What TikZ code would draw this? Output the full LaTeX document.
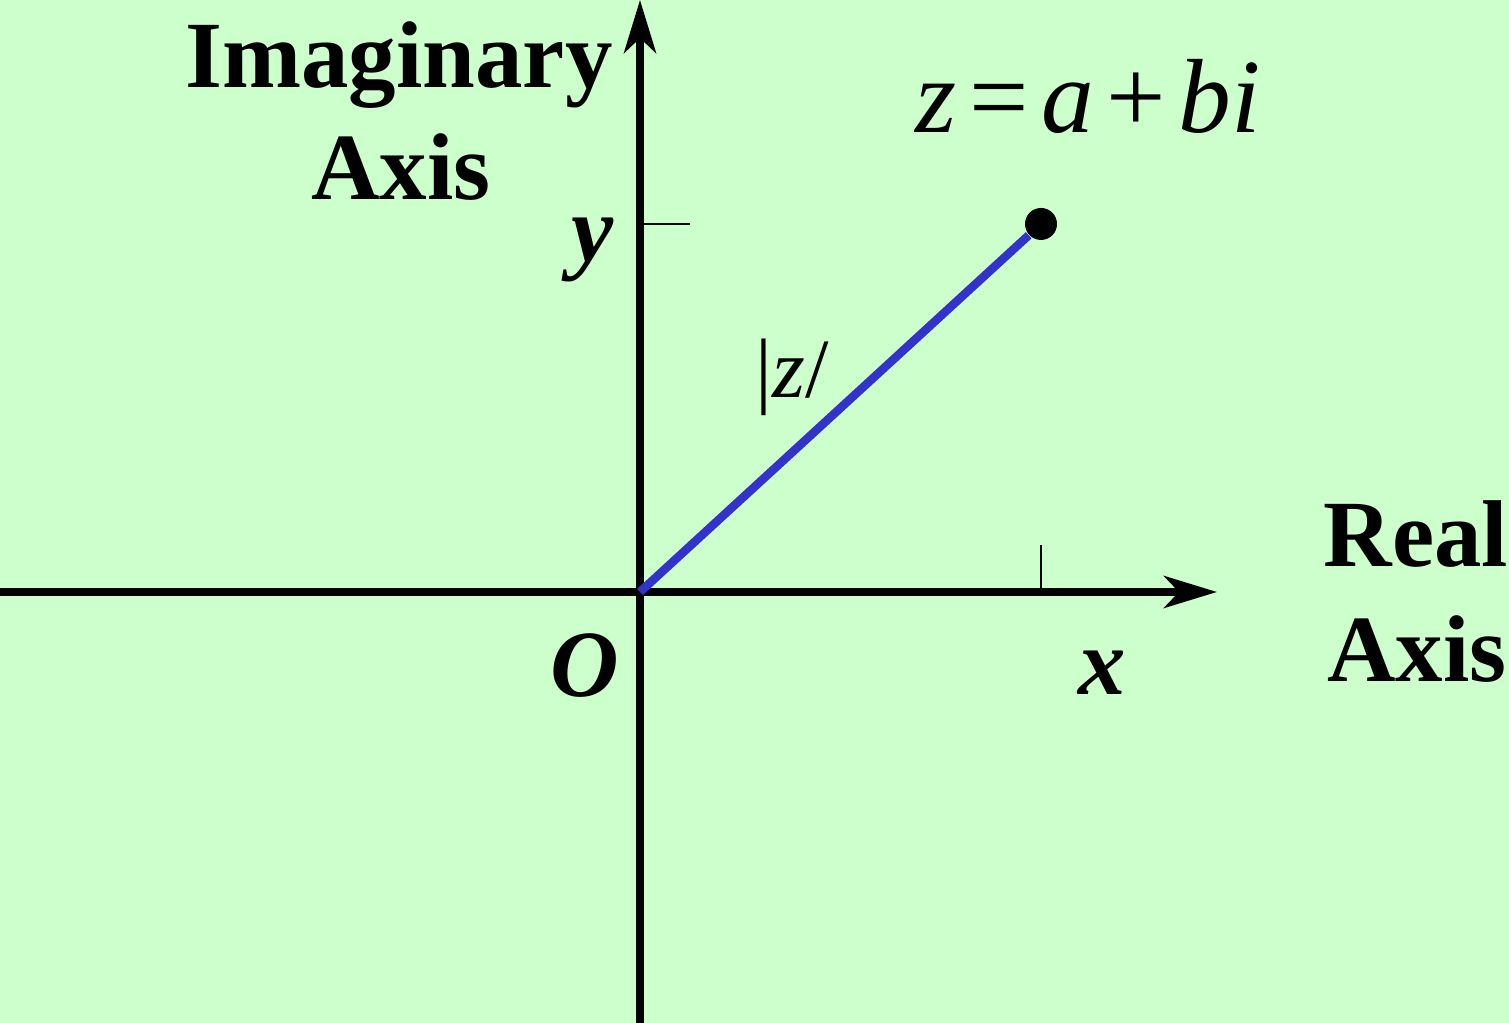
\documentclass[tikz,border=0pt]{standalone}
\usepackage{fontspec}
\setmainfont{Liberation Serif}
\usetikzlibrary{arrows.meta, positioning}
\definecolor{bggreen}{RGB}{204,255,204}
\definecolor{zline}{RGB}{51,51,204}

\begin{document}
\begin{tikzpicture}[
    axisline/.style={line width=0.075cm, -{Stealth[length=5.3mm, width=3.2mm, inset=1.5mm]}},
    tickline/.style={line width=0.02cm},
    axislabel/.style={font=\fontsize{27}{30}\selectfont\bfseries, anchor=base, inner sep=0},
    varlabel/.style={font=\fontsize{27}{30}\selectfont\bfseries\itshape, anchor=base, inner sep=0}]
    \path[use as bounding box, fill=bggreen] (0,0) rectangle (15.09,10.23);
    % axes
    \coordinate (o) at (6.40,4.31);
    \coordinate (xl) at (0,4.31);
    \coordinate (xr) at (12.17,4.31);
    \coordinate (yb) at (6.40,0);
    \coordinate (yt) at (6.40,10.23);
    \draw[axisline] (xl) -- (xr);
    \draw[axisline] (yb) -- (yt);
    % ticks
    \coordinate (xtick) at (10.41,4.31);
    \coordinate (ytick) at (6.40,7.99);
    \draw[tickline] (xtick) -- ++(0,0.47);
    \draw[tickline] (ytick) -- ++(0.50,0);
    % the point z
    \node[circle, fill, inner sep=0, minimum size=0.32cm] (pt) at (10.41,7.99) {};
    \draw[zline, line width=0.085cm] (o) -- (pt);
    % labels
    \node[axislabel] (imag) at (3.99,9.35) {Imaginary};
    \node[axislabel] (imagaxis) at (4.01,8.23) {Axis};
    \node[axislabel] (real) at (14.16,4.56) {Real};
    \node[axislabel] (realaxis) at (14.17,3.41) {Axis};
    \node[varlabel] (ylab) at (5.93,7.61) {y};
    \node[varlabel] (olab) at (5.85,3.26) {O};
    \node[varlabel] (xlab) at (11.02,3.28) {x};
    \node[font=\fontsize{30}{34}\selectfont, anchor=base, inner sep=0] (zeq) at (10.88,8.90)
        {\textit{z}\kern0.12em=\kern0.12em\textit{a}\kern0.12em+\kern0.12em\textit{bi}};
    \node[font=\fontsize{24}{28}\selectfont, anchor=base, inner sep=0] (modz) at (7.92,6.25)
        {|\textit{z}/};
\end{tikzpicture}
\end{document}
